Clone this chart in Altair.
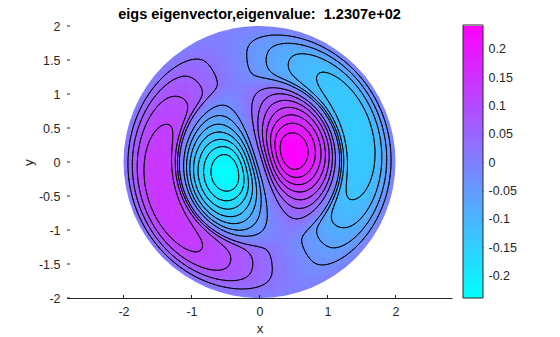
import numpy as np
import pandas as pd
import altair as alt

# ---------------- text / axes ----------------
TITLE = "eigs eigenvector,eigenvalue:\u00a0 1.2307e+02"
X_TICKS = [-2, -1, 0, 1, 2]
Y_TICKS = [-2, -1.5, -1, -0.5, 0, 0.5, 1, 1.5, 2]
CBAR_TICKS = [-0.2, -0.15, -0.1, -0.05, 0, 0.05, 0.1, 0.15, 0.2]
X_DOMAIN = [-2.831, 2.831]
Y_DOMAIN = [-2, 2]
U_RANGE = [-0.2395, 0.2405]          # colour limits of the eigenvector
CONTOUR_LEVELS = [-0.21, -0.18, -0.15, -0.12, -0.09, -0.06, -0.03,
                  0.03, 0.06, 0.09, 0.12, 0.15, 0.18, 0.21]

# ---------------- eigenmode parameters ----------------
DISK_RADIUS = 2.0
BESSEL_ZERO = 7.0156        # second zero of J1 -> dipole with an outer ring
LOBE_ANGLE_DEG = 17.0       # direction of the positive inner lobe
FLATTEN = 0.05              # flat-topped outer crescents
SPIRAL = 0.03               # slight spiral distortion of the outer crescents
SPIRAL_AXIS_DEG = 105.0
# radii read on the lobe axis (picture) and the matching Bessel radii
WARP_R = [0.0, 0.51, 1.12, 1.30, 1.70, 2.0]
WARP_RHO = [0.0, 0.525, 1.03, 1.36, 1.67, 2.0]


def pchip(xk, yk, x):
    xk = np.asarray(xk, float); yk = np.asarray(yk, float)
    h = np.diff(xk); d = np.diff(yk) / h
    m = np.zeros_like(yk)
    m[0], m[-1] = d[0], d[-1]
    for i in range(1, len(xk) - 1):
        if d[i - 1] * d[i] > 0:
            w1 = 2 * h[i] + h[i - 1]; w2 = h[i] + 2 * h[i - 1]
            m[i] = (w1 + w2) / (w1 / d[i - 1] + w2 / d[i])
    i = np.clip(np.searchsorted(xk, x) - 1, 0, len(xk) - 2)
    t = (x - xk[i]) / h[i]
    h00 = 2 * t**3 - 3 * t**2 + 1; h10 = t**3 - 2 * t**2 + t
    h01 = -2 * t**3 + 3 * t**2; h11 = t**3 - t**2
    return h00 * yk[i] + h10 * h[i] * m[i] + h01 * yk[i + 1] + h11 * h[i] * m[i + 1]


def besselj(n, x):
    tau = (np.arange(64) + 0.5) * np.pi / 64
    return np.mean(np.cos(n * tau - x[..., None] * np.sin(tau)), axis=-1)


def mode(x, y):
    r = np.hypot(x, y)
    th = np.arctan2(y, x)
    k = BESSEL_ZERO / DISK_RADIUS
    s = np.clip((r - 0.9) / 0.4, 0, 1)
    b = FLATTEN * s * s * (3 - 2 * s)
    rc = np.clip(r, 0, DISK_RADIUS)
    h = SPIRAL * (rc / 2) ** 2 * (2 - rc) * 4
    rw = pchip(WARP_R, WARP_RHO, rc)
    rho = np.clip(rw + h * np.sin(2 * (th - np.radians(SPIRAL_AXIS_DEG))), 0, DISK_RADIUS)
    t = th - np.radians(LOBE_ANGLE_DEG)
    ang = (np.cos(t) - b * np.cos(3 * t)) / (1 - b)
    u = besselj(1, k * rho) * ang
    u[r > DISK_RADIUS] = 0.0
    return u


# fine grid for contours
g = np.linspace(-2.02, 2.02, 203)
GX, GY = np.meshgrid(g, g)
GU = mode(GX, GY)
scale = U_RANGE[1] / GU.max()
GU = GU * scale


def contour_segments(X, Y, U, L):
    v00, v10, v01, v11 = U[:-1, :-1], U[:-1, 1:], U[1:, :-1], U[1:, 1:]
    x0, x1 = X[:-1, :-1], X[:-1, 1:]
    y0, y1 = Y[:-1, :-1], Y[1:, :-1]
    with np.errstate(divide="ignore", invalid="ignore"):
        tb = (L - v00) / (v10 - v00)
        tr = (L - v10) / (v11 - v10)
        tt = (L - v01) / (v11 - v01)
        tl = (L - v00) / (v01 - v00)
    pts = np.stack([
        np.stack([x0 + tb * (x1 - x0), y0], -1),
        np.stack([x1, y0 + tr * (y1 - y0)], -1),
        np.stack([x0 + tt * (x1 - x0), y1], -1),
        np.stack([x0, y0 + tl * (y1 - y0)], -1),
    ])
    s00, s10, s01, s11 = v00 > L, v10 > L, v01 > L, v11 > L
    cross = np.stack([s00 != s10, s10 != s11, s01 != s11, s00 != s01])
    cnt = cross.sum(0)
    segs = []
    m2 = cnt == 2
    order = np.argsort(~cross, axis=0, kind="stable")
    i0, i1 = order[0][m2], order[1][m2]
    iy, ix = np.nonzero(m2)
    segs.append(np.concatenate([pts[i0, iy, ix], pts[i1, iy, ix]], 1))
    m4 = cnt == 4
    if m4.any():
        iy, ix = np.nonzero(m4)
        c = (v00 + v10 + v01 + v11)[m4] / 4 > L
        same = c == s00[m4]
        a = np.where(same, 0, 0); bb = np.where(same, 1, 3)
        cc = np.where(same, 2, 1); dd = np.where(same, 3, 2)
        segs.append(np.concatenate([pts[a, iy, ix], pts[bb, iy, ix]], 1))
        segs.append(np.concatenate([pts[cc, iy, ix], pts[dd, iy, ix]], 1))
    return np.concatenate(segs, 0)


seg = np.concatenate([contour_segments(GX, GY, GU, L) for L in CONTOUR_LEVELS], 0)
contour_df = pd.DataFrame(seg, columns=["x", "y", "x2", "y2"]).round(4)

# coarse grid for the shaded disk
step = 0.04
c = np.arange(-2.06, 2.0601, step)
CX, CY = np.meshgrid(c, c)
keep = np.hypot(CX, CY) < 2.07
CU = mode(CX, CY) * scale
half = step * 0.62
heat_df = pd.DataFrame({
    "x0": (CX[keep] - half).round(4), "x1": (CX[keep] + half).round(4),
    "y0": (CY[keep] - half).round(4), "y1": (CY[keep] + half).round(4),
    "u": CU[keep].round(4),
})

edges = np.linspace(U_RANGE[0], U_RANGE[1], 161)
cbar_df = pd.DataFrame({"lo": edges[:-1],
                        "hi": np.minimum(edges[1:] + 0.002, U_RANGE[1]),
                        "mid": (edges[:-1] + edges[1:]) / 2})

# ---------------- chart ----------------
W, H = 385, 272
xs = alt.Scale(domain=X_DOMAIN, nice=False, zero=False)
ys = alt.Scale(domain=Y_DOMAIN, nice=False, zero=False)
cs = alt.Scale(domain=U_RANGE, range=["#00ffff", "#ff00ff"], interpolate="rgb")
LBL = "datum.value + ''"
AX_X = alt.Axis(values=X_TICKS, title="x", labelExpr=LBL, labelPadding=7, titlePadding=4)
AX_Y = alt.Axis(values=Y_TICKS, title="y", labelExpr=LBL, labelPadding=7,
                titleX=-39, titleBaseline="middle")

heat = alt.Chart(heat_df).mark_rect(clip=True).encode(
    x=alt.X("x0:Q", scale=xs, axis=AX_X),
    x2="x1:Q",
    y=alt.Y("y0:Q", scale=ys, axis=AX_Y),
    y2="y1:Q",
    color=alt.Color("u:Q", scale=cs, legend=None),
)

mask = alt.Chart(pd.DataFrame({"a": [0]})).mark_arc(
    innerRadius=136, outerRadius=420, theta=0, theta2=6.2832, clip=True
).encode(color=alt.value("white"))

contours = alt.Chart(contour_df).mark_rule(
    color="black", strokeWidth=0.9, strokeCap="round", clip=True
).encode(
    x=alt.X("x:Q", scale=xs, axis=AX_X), y=alt.Y("y:Q", scale=ys, axis=AX_Y),
    x2="x2:Q", y2="y2:Q",
)

xt = alt.Chart(pd.DataFrame({"t": X_TICKS})).mark_rule(color="#262626").encode(
    x=alt.X("t:Q", scale=xs, axis=AX_X), y=alt.value(H), y2=alt.value(H - 3))
yt = alt.Chart(pd.DataFrame({"t": Y_TICKS})).mark_rule(color="#262626").encode(
    y=alt.Y("t:Q", scale=ys, axis=AX_Y), x=alt.value(0), x2=alt.value(3))

main = alt.layer(heat, mask, contours, xt, yt)

cbar = alt.Chart(cbar_df).mark_rect().encode(
    x=alt.value(396), x2=alt.value(416),
    y=alt.Y("lo:Q", scale=alt.Scale(domain=U_RANGE, nice=False, zero=False),
            axis=alt.Axis(orient="right", values=CBAR_TICKS, offset=28, tickSize=3,
                          ticks=True, domain=False, labelPadding=5, title=None,
                          labelExpr=LBL, tickColor="#262626")),
    y2="hi:Q",
    color=alt.Color("mid:Q", scale=cs, legend=None),
)
cbar_box = alt.Chart(pd.DataFrame({"a": [0]})).mark_rect(
    filled=False, stroke="#262626", strokeWidth=1
).encode(x=alt.value(396), x2=alt.value(416), y=alt.value(-1), y2=alt.value(H))

chart = alt.layer(main, cbar, cbar_box).resolve_scale(y="independent").properties(
    width=W, height=H,
    title=alt.TitleParams(TITLE, fontSize=14.5, fontWeight="bold", font="Liberation Sans",
                          color="black", anchor="middle", offset=0, dy=2),
    padding={"left": 67, "top": 26, "right": 108, "bottom": 39},
    autosize=alt.AutoSizeParams(type="none"),
).configure_view(stroke=None).configure_axis(
    labelFont="Liberation Sans", labelFontSize=12.5, labelColor="#262626",
    titleFont="Liberation Sans", titleFontSize=13.5, titleFontWeight="normal",
    titleColor="#262626", domainColor="#262626", ticks=False, tickSize=0,
    grid=False, zindex=1,
)

chart.save("out.html", embed_options={"renderer": "svg", "actions": False})
